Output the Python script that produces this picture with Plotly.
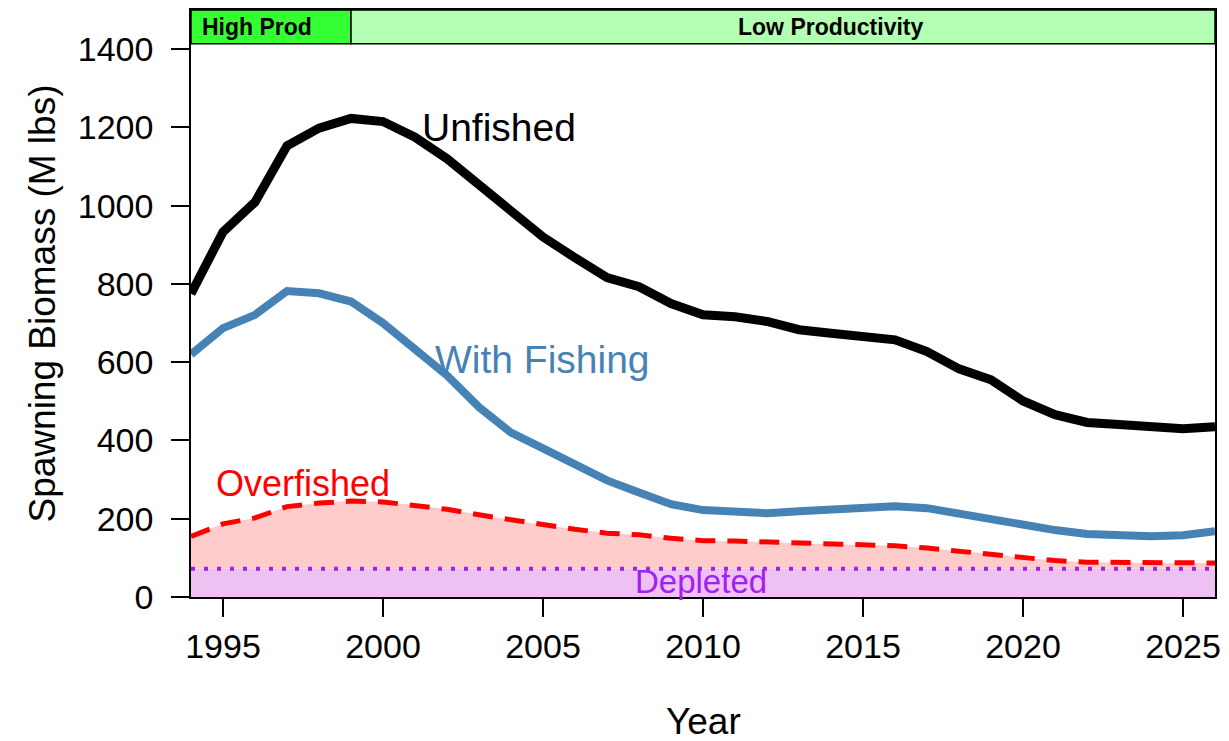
import plotly.graph_objects as go

years = list(range(1994, 2027))
unfished = [775, 933, 1009, 1153, 1198, 1223, 1215, 1175, 1120, 1052, 984, 920, 867,
            816, 793, 750, 721, 716, 704, 683, 674, 666, 657, 627, 583, 555, 501, 466,
            446, 441, 434, 430, 435]
with_fishing = [620, 687, 721, 782, 776, 755, 700, 636, 566, 485, 420, 380, 339, 298,
                267, 237, 222, 216, 214, 219, 223, 228, 232, 227, 212, 201, 184, 171,
                161, 157, 155, 158, 168]
overfished = [155, 187, 202, 231, 240, 245, 243, 235, 224, 210, 197, 184, 173, 163,
              159, 150, 144, 143, 141, 137, 135, 133, 131, 125, 117, 111, 100, 93,
              89, 88, 87, 86, 87]
depleted = [72] * len(years)

x_ticks = [1995, 2000, 2005, 2010, 2015, 2020, 2025]
y_ticks = [0, 200, 400, 600, 800, 1000, 1200, 1400]

periods = ["High Prod", "Low Productivity"]
period_start = [1994, 1999]
period_end = [1999, 2026]
period_label_x = [1996.05, 2014.0]
period_colors = ["#33FF33", "#B3FFB3"]

FONT = "Liberation Sans, Arial, sans-serif"

fig = go.Figure()
# filled zones
fig.add_trace(go.Scatter(x=years, y=depleted, mode="lines", line=dict(width=0),
                         fill="tozeroy", fillcolor="#EFC1F3", hoverinfo="skip",
                         showlegend=False))
fig.add_trace(go.Scatter(x=years, y=overfished, mode="lines", line=dict(width=0),
                         fill="tonexty", fillcolor="#FFCCCC", hoverinfo="skip",
                         showlegend=False))
# lines
fig.add_trace(go.Scatter(x=years, y=depleted, mode="lines",
                         line=dict(color="#A020F0", width=4, dash="4px,9px"),
                         showlegend=False))
fig.add_trace(go.Scatter(x=years, y=overfished, mode="lines",
                         line=dict(color="#FF0000", width=5, dash="20px,12px"),
                         showlegend=False))
fig.add_trace(go.Scatter(x=years, y=with_fishing, mode="lines",
                         line=dict(color="#4682B4", width=8), showlegend=False))
fig.add_trace(go.Scatter(x=years, y=unfished, mode="lines",
                         line=dict(color="#000000", width=9), showlegend=False))

shapes = []
for s, e, c in zip(period_start, period_end, period_colors):
    shapes.append(dict(type="rect", xref="x", yref="paper", x0=s, x1=e,
                       y0=0.9427, y1=1.0, fillcolor=c,
                       line=dict(color="black", width=1.5), layer="above"))

annotations = []
for lab, lx in zip(periods, period_label_x):
    annotations.append(dict(x=lx, y=0.9713, xref="x", yref="paper", text=f"<b>{lab}</b>",
                            showarrow=False, font=dict(size=23, color="black", family=FONT),
                            xanchor="center", yanchor="middle"))

annotations += [
    dict(x=2003.63, y=1199, text="Unfished", showarrow=False,
         font=dict(size=39, color="black", family=FONT), xanchor="center", yanchor="middle"),
    dict(x=2004.97, y=608, text="With Fishing", showarrow=False,
         font=dict(size=39, color="#4682B4", family=FONT), xanchor="center", yanchor="middle"),
    dict(x=1997.49, y=289, text="Overfished", showarrow=False,
         font=dict(size=36, color="#FF0000", family=FONT), xanchor="center", yanchor="middle"),
    dict(x=2009.95, y=39.5, text="Depleted", showarrow=False,
         font=dict(size=33, color="#A020F0", family=FONT), xanchor="center", yanchor="middle"),
    dict(x=0.5, y=0, xref="paper", yref="paper", text="Year", showarrow=False,
         font=dict(size=37, color="black", family=FONT), xanchor="center", yanchor="middle",
         yshift=-124),
    dict(x=0, y=0.5, xref="paper", yref="paper", text="Spawning Biomass (M lbs)",
         showarrow=False, textangle=-90,
         font=dict(size=37, color="black", family=FONT), xanchor="center", yanchor="middle",
         xshift=-149),
]

fig.update_layout(
    width=1229, height=741,
    margin=dict(l=191, r=11, t=8, b=144),
    paper_bgcolor="white", plot_bgcolor="white",
    shapes=shapes, annotations=annotations,
    font=dict(family=FONT, color="black"),
    xaxis=dict(range=[1994, 2026], tickvals=x_ticks, ticks="outside", ticklen=18,
               tickwidth=1.5, tickcolor="black", showline=True, linecolor="black",
               linewidth=1.5, mirror=True, showgrid=False, zeroline=False,
               tickfont=dict(size=34, color="black", family=FONT)),
    yaxis=dict(range=[0, 1500], tickvals=y_ticks, ticks="outside", ticklen=18,
               tickwidth=1.5, tickcolor="black", showline=True, linecolor="black",
               linewidth=1.5, mirror=True, showgrid=False, zeroline=False,
               ticklabelstandoff=11,
               tickfont=dict(size=34, color="black", family=FONT)),
)

fig.write_html("out.html", config={"displayModeBar": False},
               post_script="document.body.style.margin='0';document.body.style.overflow='hidden';")
